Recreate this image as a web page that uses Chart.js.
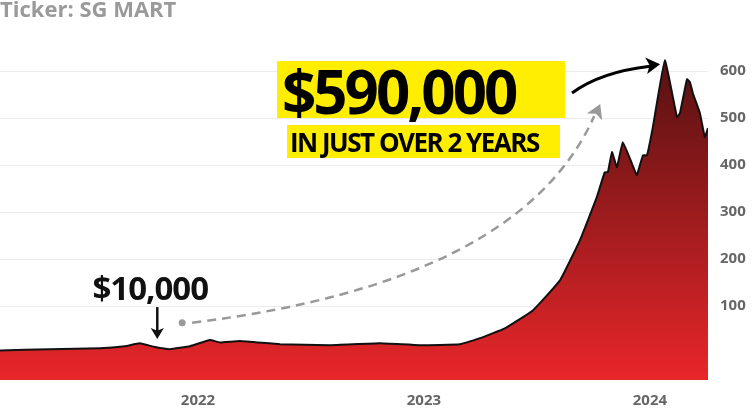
<!DOCTYPE html>
<html><head><meta charset="utf-8">
<script src="https://cdn.jsdelivr.net/npm/chart.js@4"></script>
<style>html,body{margin:0;padding:0;background:#fff}#w{width:756px;height:409px;position:relative}</style>
</head><body><div id="w"><canvas id="c"></canvas></div>
<script>
const years = [2021.124,2021.345,2021.566,2021.677,2021.743,2021.81,2021.876,2021.965,2022.053,2022.097,2022.186,2022.363,2022.584,2022.805,2022.982,2023.159,2023.248,2023.358,2023.482,2023.602,2023.69,2023.765,2023.8,2023.814,2023.832,2023.854,2023.88,2023.92,2023.942,2023.969,2023.987,2024.013,2024.066,2024.12,2024.133,2024.164,2024.177,2024.19,2024.221,2024.243,2024.257];
const values = [6,8.5,10.6,15,21,13,8.5,15,28,23,26,19,17,21,17,19,32,53,91,155,240,332,385,385,428,396,449,404,379,421,421,481,623,502,511,583,577,553,511,460,479];
const yTicks = [0,100,200,300,400,500,600];
const yearTicks = [2022,2023,2024];
const title = "Ticker: SG MART";
const bigLabel = "$590,000";
const subLabel = "IN JUST OVER 2 YEARS";
const startLabel = "$10,000";

function arrowHead(ctx,x,y,ang,size,color){
  ctx.save();ctx.fillStyle=color;ctx.translate(x,y);ctx.rotate(ang);
  ctx.beginPath();ctx.moveTo(0,0);ctx.lineTo(-size,-size*0.6);ctx.lineTo(-size*0.75,0);ctx.lineTo(-size,size*0.6);ctx.closePath();ctx.fill();ctx.restore();
}
const annot = {
  id:'annot',
  afterDatasetsDraw(chart){
    const ctx=chart.ctx, xs=chart.scales.x, ys=chart.scales.y;
    ctx.save();
    ctx.fillStyle='#9a9a9a';ctx.font='bold 22px "Open Sans"';ctx.textBaseline='top';
    ctx.fillText(title,0,0);
    const sx=xs.getPixelForValue(2021.82), sy=ys.getPixelForValue(values[5]);
    ctx.fillStyle='#111';ctx.font='bold 33px "Open Sans"';ctx.textAlign='center';ctx.textBaseline='alphabetic';
    ctx.letterSpacing='-1px';
    ctx.fillText(startLabel,sx-7,sy-47);
    ctx.strokeStyle='#111';ctx.lineWidth=2.5;ctx.beginPath();ctx.moveTo(sx,sy-40);ctx.lineTo(sx,sy-14);ctx.stroke();
    arrowHead(ctx,sx,sy-8,Math.PI/2,11,'#111');
    const dx=xs.getPixelForValue(2021.93), dy=ys.getPixelForValue(65);
    const ex=xs.getPixelForValue(2023.78), ey=ys.getPixelForValue(530);
    ctx.fillStyle='#999';ctx.beginPath();ctx.arc(dx,dy,3.5,0,Math.PI*2);ctx.fill();
    ctx.strokeStyle='#999';ctx.lineWidth=2.5;ctx.setLineDash([9,6]);
    ctx.beginPath();ctx.moveTo(dx+10,dy);ctx.quadraticCurveTo(ex-80,dy-40,ex-6,ey+12);ctx.stroke();ctx.setLineDash([]);
    arrowHead(ctx,ex,ey,Math.atan2(ey+12-(dy-40),ex-6-(ex-80)),14,'#999');
    ctx.textAlign='left';
    ctx.font='bold 60px "Open Sans"';ctx.letterSpacing='-3px';
    const bw=ctx.measureText(bigLabel).width;
    ctx.fillStyle='#ffee00';ctx.fillRect(277,61,Math.max(bw+10,288),57);
    ctx.fillStyle='#000';ctx.fillText(bigLabel,282,114);
    ctx.font='bold 26px "Open Sans"';ctx.letterSpacing='-1.5px';
    const sw=ctx.measureText(subLabel).width;
    ctx.fillStyle='#ffee00';ctx.fillRect(287,125,Math.max(sw+8,273),33);
    ctx.fillStyle='#000';ctx.fillText(subLabel,290,152);
    const px=xs.getPixelForValue(2024.045), py=ys.getPixelForValue(615);
    ctx.strokeStyle='#000';ctx.lineWidth=3;ctx.beginPath();ctx.moveTo(572,93);ctx.quadraticCurveTo(600,72,px-10,py+2);ctx.stroke();
    arrowHead(ctx,px,py,Math.atan2(py+2-72,px-10-600),14,'#000');
    ctx.restore();
  }
};
const ctx=document.getElementById('c');
new Chart(ctx,{
  type:'line',
  data:{datasets:[{data:years.map((y,i)=>({x:y,y:values[i]})),borderColor:'#111',borderWidth:2,pointRadius:0,tension:0.1,fill:'start',
    backgroundColor(c){const a=c.chart.chartArea;if(!a)return '#c22';const g=c.chart.ctx.createLinearGradient(0,a.top,0,a.bottom);g.addColorStop(0,'#4e1010');g.addColorStop(1,'#e8262a');return g;}}]},
  options:{responsive:true,maintainAspectRatio:false,animation:false,
    layout:{padding:{top:43,left:0,right:0,bottom:0}},
    plugins:{legend:{display:false},tooltip:{enabled:false}},
    scales:{
      x:{type:'linear',min:years[0],max:years[years.length-1],
        afterBuildTicks(s){s.ticks=yearTicks.map(v=>({value:v}));},
        afterFit(s){s.height=29;},
        ticks:{callback:v=>String(v),color:'#666',font:{family:'"Open Sans"',weight:'bold',size:15},padding:4},
        grid:{display:false},border:{display:false}},
      y:{position:'right',min:-57,max:660,
        afterBuildTicks(s){s.ticks=yTicks.map(v=>({value:v}));},
        afterFit(s){s.width=48;},
        ticks:{callback:v=>v===0?'':String(v),color:'#666',font:{family:'"Open Sans"',weight:'bold',size:15},padding:12},
        grid:{color:'#ececec',drawTicks:false},border:{display:false}}
    }},
  plugins:[annot]
});
</script></body></html>
